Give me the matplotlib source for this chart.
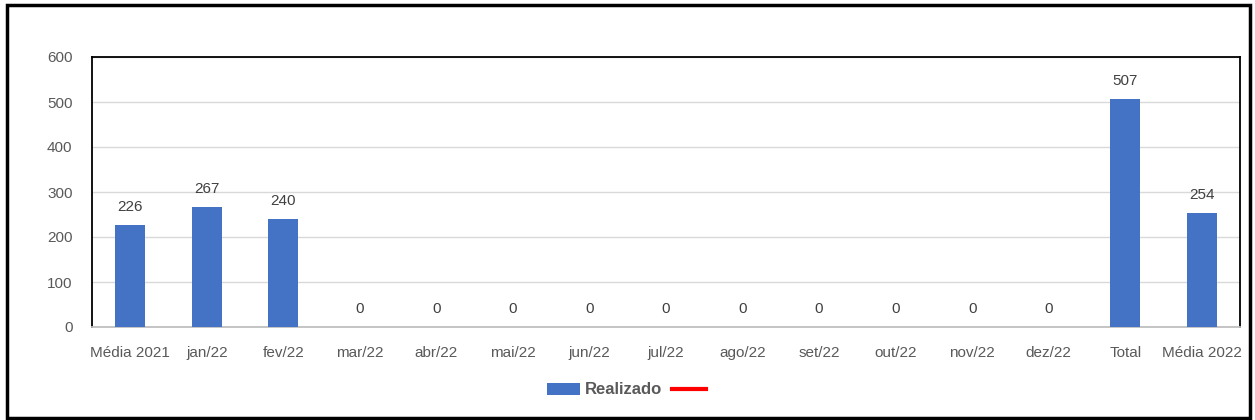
import matplotlib
matplotlib.use("Agg")
import matplotlib.pyplot as plt
from matplotlib.patches import Rectangle, Patch
from matplotlib.lines import Line2D

# values
categories = ["Média 2021", "jan/22", "fev/22", "mar/22", "abr/22", "mai/22",
              "jun/22", "jul/22", "ago/22", "set/22", "out/22", "nov/22",
              "dez/22", "Total", "Média 2022"]
realizado = [226, 267, 240, 0, 0, 0, 0, 0, 0, 0, 0, 0, 0, 507, 254]
y_ticks = [0, 100, 200, 300, 400, 500, 600]

plt.rcParams["font.family"] = ["Liberation Sans Narrow", "Liberation Sans", "DejaVu Sans"]
BLUE = "#4472C4"
GREY = "#595959"

fig = plt.figure(figsize=(12.55, 4.2), dpi=100)
ax = fig.add_axes([92 / 1255, 1 - 327 / 420, (1240 - 92) / 1255, (327 - 57) / 420])

x = list(range(len(categories)))
ax.bar(x, realizado, width=0.39, color=BLUE, zorder=3)
for xi, v in zip(x, realizado):
    ax.annotate(f"{v}", (xi, v), xytext=(0, 8), textcoords="offset points",
                ha="center", va="bottom", fontsize=11, color="#404040")

ax.set_xlim(-0.5, len(categories) - 0.5)
ax.set_ylim(0, 600)
ax.set_yticks(y_ticks)
ax.set_xticks(x)
ax.set_xticklabels(categories)
ax.tick_params(axis="both", length=0, labelsize=11, labelcolor=GREY)
ax.tick_params(axis="x", pad=14)
ax.tick_params(axis="y", pad=14)
ax.yaxis.grid(True, color="#D9D9D9", linewidth=1, zorder=0)
ax.set_axisbelow(True)
for side in ("top", "left", "right"):
    ax.spines[side].set_color("black")
    ax.spines[side].set_linewidth(1.3)
ax.spines["bottom"].set_color("#BFBFBF")
ax.spines["bottom"].set_linewidth(1.3)

handles = [Patch(facecolor=BLUE, label="Realizado"),
           Line2D([], [], color="red", linewidth=3, label=" ")]
leg = fig.legend(handles=handles, loc="center", bbox_to_anchor=(631 / 1255, 1 - 390 / 420),
                 ncol=2, frameon=False, handlelength=2.0, handletextpad=0.3,
                 columnspacing=0.6, prop={"size": 12, "weight": "bold"})
for t in leg.get_texts():
    t.set_color(GREY)

# outer chart border
fig.patches.append(Rectangle((7 / 1255, 2 / 420), 1243 / 1255, 413 / 420,
                             transform=fig.transFigure, fill=False,
                             edgecolor="black", linewidth=2.5))

fig.savefig("out.png", dpi=100)
